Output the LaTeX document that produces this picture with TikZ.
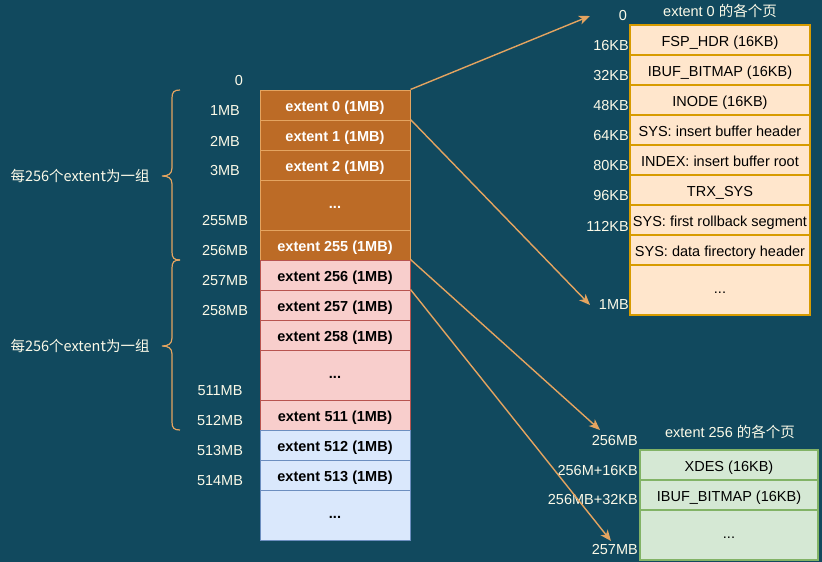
\documentclass[tikz,border=0pt]{standalone}
\usepackage{fontspec}
\setmainfont{Liberation Sans}
\newfontfamily\cjk{Noto Sans CJK SC}
\usetikzlibrary{arrows.meta}
\definecolor{bgc}{RGB}{17,73,94}
\definecolor{cream}{RGB}{252,250,232}
\definecolor{ofill}{RGB}{188,107,38}
\definecolor{oline}{RGB}{228,164,96}
\definecolor{pfill}{RGB}{248,206,204}
\definecolor{pline}{RGB}{184,84,80}
\definecolor{bfill}{RGB}{218,232,252}
\definecolor{bline}{RGB}{108,142,191}
\definecolor{yfill}{RGB}{255,230,204}
\definecolor{yline}{RGB}{215,155,0}
\definecolor{gfill}{RGB}{213,232,212}
\definecolor{gline}{RGB}{130,179,102}
\definecolor{arr}{RGB}{228,164,96}
\tikzset{
  cell/.style={draw, line width=1pt, minimum width=150pt, inner sep=0pt, text height=12pt, text depth=0pt, font=\fontsize{14.5}{16}\selectfont\bfseries},
  rowO/.style={cell, fill=ofill, draw=oline, text=white},
  rowP/.style={cell, fill=pfill, draw=pline, text=black},
  rowB/.style={cell, fill=bfill, draw=bline, text=black},
  page/.style={draw, line width=1.5pt, minimum width=180pt, inner sep=0pt, text height=12pt, text depth=0pt, font=\fontsize{14.5}{16}\selectfont, text=black},
  pageY/.style={page, fill=yfill, draw=yline},
  pageG/.style={page, fill=gfill, draw=gline, minimum width=178pt},
  dots/.style={text height=6pt, text depth=0pt},
  lbl/.style={text=cream, inner sep=0pt, font=\fontsize{14.5}{16}\selectfont},
  ttl/.style={text=cream, inner sep=0pt, font=\fontsize{14.5}{16}\selectfont},
  conn/.style={draw=arr, line width=1.4pt, -{Stealth[length=11pt,width=9pt,inset=3pt]}},
  brc/.style={draw=oline, line width=1.2pt}
}
\begin{document}
\begin{tikzpicture}[x=1pt,y=-1pt]
\fill[bgc] (0,0) rectangle (822,562);
\useasboundingbox (0,0) rectangle (822,562);
% left column
\node[rowO, minimum height=30pt] (e0) at (335,105) {extent 0 (1MB)};
\node[rowO, minimum height=30pt] (e1) at (335,135) {extent 1 (1MB)};
\node[rowO, minimum height=30pt] (e2) at (335,165) {extent 2 (1MB)};
\node[rowO, dots, minimum height=50pt] (ed1) at (335,205) {...};
\node[rowO, minimum height=30pt] (e255) at (335,245) {extent 255 (1MB)};
\node[rowP, minimum height=30pt] (e256) at (335,275) {extent 256 (1MB)};
\node[rowP, minimum height=30pt] (e257) at (335,305) {extent 257 (1MB)};
\node[rowP, minimum height=30pt] (e258) at (335,335) {extent 258 (1MB)};
\node[rowP, dots, minimum height=50pt] (ed2) at (335,375) {...};
\node[rowP, minimum height=30pt] (e511) at (335,415) {extent 511 (1MB)};
\node[rowB, minimum height=30pt] (e512) at (335,445) {extent 512 (1MB)};
\node[rowB, minimum height=30pt] (e513) at (335,475) {extent 513 (1MB)};
\node[rowB, dots, minimum height=50pt] (ed3) at (335,515) {...};
% left labels
\node[lbl] (l0) at (239,81) {0};
\node[lbl] (l1) at (225,111) {1MB};
\node[lbl] (l2) at (225,141) {2MB};
\node[lbl] (l3) at (225,171) {3MB};
\node[lbl] (l255) at (225,221) {255MB};
\node[lbl] (l256) at (225,251) {256MB};
\node[lbl] (l257) at (225,281) {257MB};
\node[lbl] (l258) at (225,311) {258MB};
\node[lbl] (l511) at (220,391) {511MB};
\node[lbl] (l512) at (220,421) {512MB};
\node[lbl] (l513) at (220,451) {513MB};
\node[lbl] (l514) at (220,481) {514MB};
% braces
\draw[brc] (180,90) .. controls (174,90) and (172,92) .. (172,98) -- (172,168) .. controls (172,174) and (168,176) .. (162,176) .. controls (168,176) and (172,178) .. (172,184) -- (172,252) .. controls (172,258) and (174,260) .. (180,260);
\draw[brc] (180,260) .. controls (174,260) and (172,262) .. (172,268) -- (172,338) .. controls (172,344) and (168,346) .. (162,346) .. controls (168,346) and (172,348) .. (172,354) -- (172,422) .. controls (172,428) and (174,430) .. (180,430);
\node[lbl, font=\fontsize{14.5}{16}\selectfont\cjk] (g1) at (80,176) {每256个extent为一组};
\node[lbl, font=\fontsize{14.5}{16}\selectfont\cjk] (g2) at (80,346) {每256个extent为一组};
% top right table
\node[ttl] (t1) at (720,11) {extent 0 {\cjk 的各个页}};
\node[pageY, minimum height=30pt] (p1) at (720,40) {FSP\_HDR (16KB)};
\node[pageY, minimum height=30pt] (p2) at (720,70) {IBUF\_BITMAP (16KB)};
\node[pageY, minimum height=30pt] (p3) at (720,100) {INODE (16KB)};
\node[pageY, minimum height=30pt] (p4) at (720,130) {SYS: insert buffer header};
\node[pageY, minimum height=30pt] (p5) at (720,160) {INDEX: insert buffer root};
\node[pageY, minimum height=30pt] (p6) at (720,190) {TRX\_SYS};
\node[pageY, minimum height=30pt] (p7) at (720,220) {SYS: first rollback segment};
\node[pageY, minimum height=30pt] (p8) at (720,250) {SYS: data firectory header};
\node[pageY, dots, minimum height=50pt] (p9) at (720,290) {...};
\node[lbl] (r0) at (623,16) {0};
\node[lbl, anchor=east] (r16) at (629,46) {16KB};
\node[lbl, anchor=east] (r32) at (629,76) {32KB};
\node[lbl, anchor=east] (r48) at (629,106) {48KB};
\node[lbl, anchor=east] (r64) at (629,136) {64KB};
\node[lbl, anchor=east] (r80) at (629,166) {80KB};
\node[lbl, anchor=east] (r96) at (629,196) {96KB};
\node[lbl, anchor=east] (r112) at (629,226) {112KB};
\node[lbl, anchor=east] (r1mb) at (629,305) {1MB};
% bottom right table
\node[ttl] (t2) at (730,432) {extent 256 {\cjk 的各个页}};
\node[pageG, minimum height=30pt] (q1) at (729,465) {XDES (16KB)};
\node[pageG, minimum height=30pt] (q2) at (729,495) {IBUF\_BITMAP (16KB)};
\node[pageG, dots, minimum height=50pt] (q3) at (729,535) {...};
\node[lbl, anchor=east] (s0) at (638,441) {256MB};
\node[lbl, anchor=east] (s1) at (638,471) {256M+16KB};
\node[lbl, anchor=east] (s2) at (638,500) {256MB+32KB};
\node[lbl, anchor=east] (s3) at (638,550) {257MB};
% arrows
\coordinate (a1) at (590,16);
\coordinate (a2) at (590,305);
\coordinate (a3) at (600,430);
\coordinate (a4) at (611,541);
\draw[conn] (e0.north east) -- (a1);
\draw[conn] (e1.north east) -- (a2);
\draw[conn] (e256.north east) -- (a3);
\draw[conn] (e257.north east) -- (a4);
\end{tikzpicture}
\end{document}
